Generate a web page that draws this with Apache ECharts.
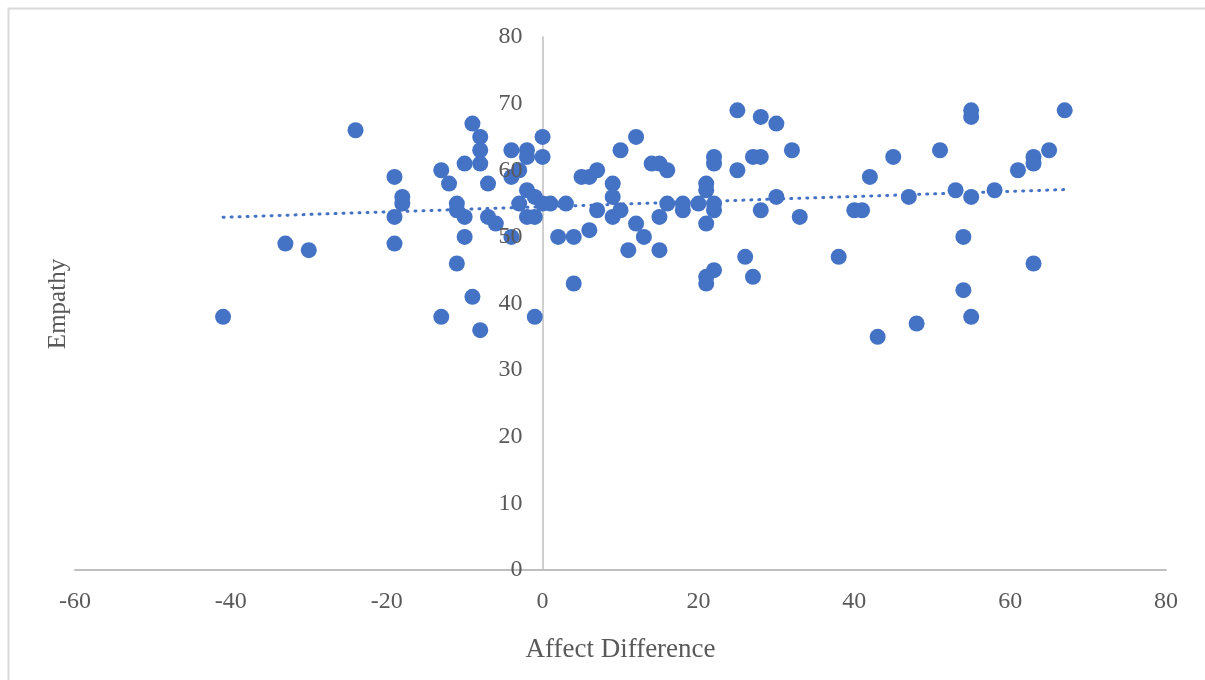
<!DOCTYPE html>
<html>
<head>
<meta charset="utf-8">
<script src="https://cdn.jsdelivr.net/npm/echarts@6/dist/echarts.min.js"></script>
<style>
html,body{margin:0;padding:0;background:#fff;}
#chart{width:1205px;height:680px;}
</style>
</head>
<body>
<div id="chart"></div>
<script>
// Affect Difference (x) values
const affectDiff = [
  -41, -33, -30, -24,
  -19, -19, -19, -18, -18,
  -13, -13, -12, -11, -11, -11,
  -10, -10, -10, -9, -9,
  -8, -8, -8, -8,
  -7, -7, -6,
  -4, -4, -4, -3, -3,
  -2, -2, -2, -2, -1, -1, -1,
  0, 0, 0, 1, 2, 3, 4, 4,
  5, 6, 6, 7, 7, 9, 9, 9, 10, 10,
  11, 12, 12, 13, 14, 15, 15, 15, 16, 16,
  18, 18, 20, 21, 21, 21, 21, 21,
  22, 22, 22, 22, 22,
  25, 25, 26, 27, 27, 28, 28, 28,
  30, 30, 32, 33, 38, 40, 41, 42, 43,
  45, 47, 48, 51, 53, 54, 54, 55, 55, 55, 55,
  58, 61, 63, 63, 63, 65, 67
];
// Empathy (y) values
const empathy = [
  38, 49, 48, 66,
  59, 53, 49, 56, 55,
  60, 38, 58, 55, 54, 46,
  61, 53, 50, 67, 41,
  65, 63, 61, 36,
  58, 53, 52,
  63, 59, 50, 60, 55,
  63, 62, 57, 53, 56, 53, 38,
  65, 62, 55, 55, 50, 55, 50, 43,
  59, 59, 51, 60, 54, 58, 56, 53, 63, 54,
  48, 65, 52, 50, 61, 61, 53, 48, 60, 55,
  55, 54, 55, 58, 57, 52, 44, 43,
  62, 61, 55, 54, 45,
  69, 60, 47, 62, 44, 68, 62, 54,
  67, 56, 63, 53, 47, 54, 54, 59, 35,
  62, 56, 37, 63, 57, 50, 42, 69, 68, 56, 38,
  57, 60, 62, 61, 46, 63, 69
];
const xTicks = [-60, -40, -20, 0, 20, 40, 60, 80];
const yTicks = [0, 10, 20, 30, 40, 50, 60, 70, 80];
const xTitle = 'Affect Difference';
const yTitle = 'Empathy';

const points = affectDiff.map((x, i) => [x, empathy[i]]);

// linear trendline (least squares) from the data
const n = points.length;
let sx = 0, sy = 0, sxx = 0, sxy = 0;
points.forEach(([x, y]) => { sx += x; sy += y; sxx += x * x; sxy += x * y; });
const slope = (n * sxy - sx * sy) / (n * sxx - sx * sx);
const intercept = (sy - slope * sx) / n;
const xMin = Math.min(...affectDiff), xMax = Math.max(...affectDiff);
const trend = [[xMin, intercept + slope * xMin], [xMax, intercept + slope * xMax]];

const textColor = '#595959';
const font = '"Liberation Serif", "Times New Roman", serif';

const W = 1205;
const gridLeft = 75, gridRight = 39;
const plotW = W - gridLeft - gridRight;
const xLo = xTicks[0], xHi = xTicks[xTicks.length - 1];
const yLo = yTicks[0], yHi = yTicks[yTicks.length - 1];
// put the y axis (line + labels) on x = 0
const yAxisOffset = -plotW * (0 - xLo) / (xHi - xLo);

const chart = echarts.init(document.getElementById('chart'));
chart.setOption({
  animation: false,
  backgroundColor: '#ffffff',
  grid: { left: gridLeft, right: gridRight, top: 37, bottom: 110, containLabel: false },
  graphic: [
    {
      type: 'rect', left: 6, top: 6, silent: true,
      shape: { width: 1400, height: 900 },
      style: { fill: 'none', stroke: '#d9d9d9', lineWidth: 2 }
    },
    {
      type: 'text', silent: true,
      x: 58, y: 304, rotation: Math.PI / 2,
      style: {
        text: yTitle, fill: textColor, font: '25px ' + font,
        textAlign: 'center', textVerticalAlign: 'middle'
      }
    }
  ],
  xAxis: {
    type: 'value',
    min: xLo, max: xHi, interval: 20,
    name: xTitle, nameLocation: 'middle', nameGap: 66,
    nameTextStyle: { color: textColor, fontFamily: font, fontSize: 27 },
    axisLine: { onZero: true, lineStyle: { color: '#bfbfbf', width: 2 } },
    axisTick: { show: false },
    splitLine: { show: false },
    axisLabel: { color: textColor, fontFamily: font, fontSize: 24, margin: 20 }
  },
  yAxis: [
    {
      // axis line (under the markers)
      type: 'value',
      position: 'left',
      offset: yAxisOffset,
      min: yLo, max: yHi, interval: 10,
      z: 0,
      axisLine: { show: true, onZero: false, lineStyle: { color: '#bfbfbf', width: 1.5 } },
      axisTick: { show: false },
      splitLine: { show: false },
      axisLabel: { show: false }
    },
    {
      // tick labels (drawn over the markers)
      type: 'value',
      position: 'left',
      offset: yAxisOffset,
      min: yLo, max: yHi, interval: 10,
      z: 10,
      axisLine: { show: false, onZero: false },
      axisTick: { show: false },
      splitLine: { show: false },
      axisLabel: { color: textColor, fontFamily: font, fontSize: 24, margin: 20 }
    }
  ],
  series: [
    {
      type: 'line',
      data: trend,
      symbol: 'none',
      silent: true,
      z: 1,
      lineStyle: { color: '#4472C4', width: 3, type: [1, 7], cap: 'round' }
    },
    {
      type: 'scatter',
      data: points,
      symbol: 'circle',
      symbolSize: 16,
      z: 2,
      itemStyle: { color: '#4472C4', opacity: 1 }
    }
  ]
});
</script>
</body>
</html>
